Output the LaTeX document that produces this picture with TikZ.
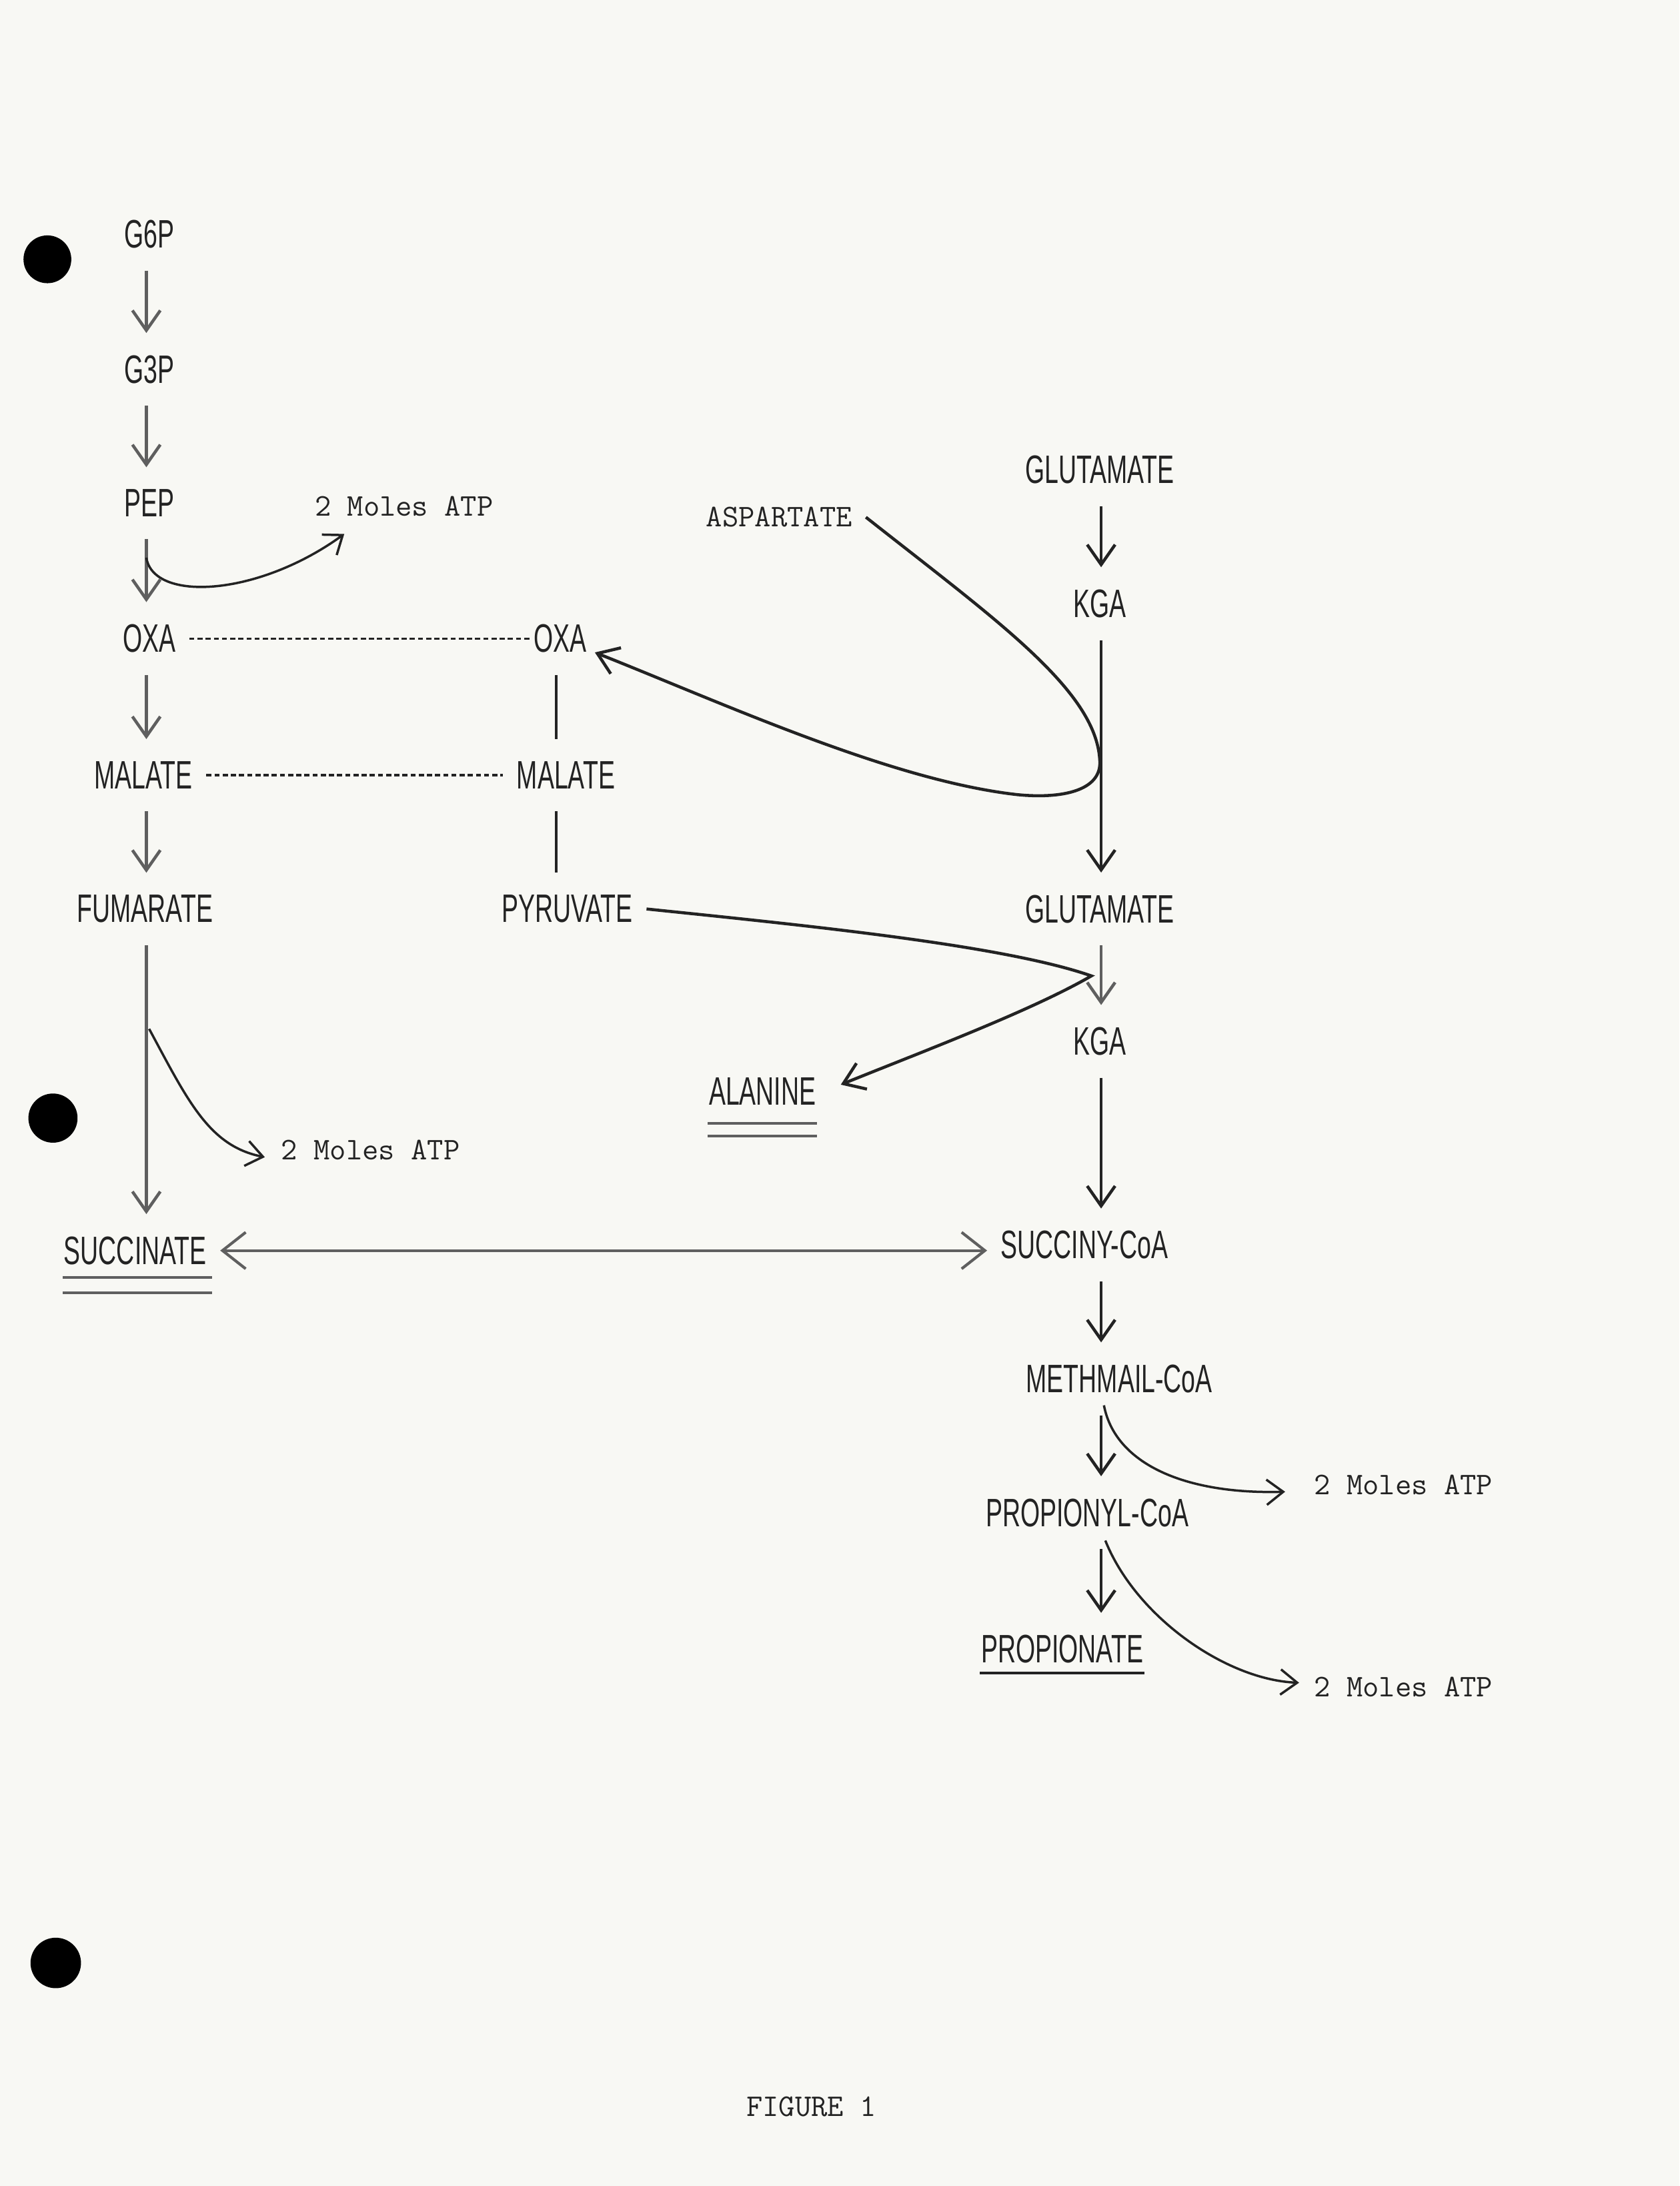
\documentclass[tikz,border=0pt]{standalone}
\usepackage{fontspec}
\usetikzlibrary{arrows.meta,calc}
\newfontfamily\letterfont[FakeStretch=0.63]{Liberation Sans}
\definecolor{paper}{RGB}{248,248,244}
\definecolor{ink}{RGB}{35,35,35}
\definecolor{fadeink}{RGB}{95,95,95}

\begin{document}
\begin{tikzpicture}[x=0.021cm,y=-0.021cm,
  chem/.style={font=\letterfont\fontsize{17}{17}\selectfont, text=ink, inner xsep=0.2cm, inner ysep=0.33cm},
  typed/.style={font=\ttfamily\fontsize{13.5}{14}\selectfont, text=ink, inner sep=0.2cm},
  arr/.style={draw=ink, line width=1.3pt, -{Straight Barb[length=0.3cm,width=0.42cm]}},
  fadearr/.style={arr, draw=fadeink},
  bar/.style={draw=ink, line width=1.3pt},
  tie/.style={draw=ink, line width=0.9pt, dash pattern=on 2.2pt off 1.3pt},
  yield/.style={draw=ink, line width=1pt, -{Straight Barb[length=0.25cm,width=0.38cm]}},
  both/.style={draw=fadeink, line width=1.2pt, {Straight Barb[length=0.35cm,width=0.55cm]}-{Straight Barb[length=0.35cm,width=0.55cm]}},
  uline/.style={draw=fadeink, line width=1.2pt}]

\fill[paper] (0,0) rectangle (1205,1568);
\useasboundingbox (0,0) rectangle (1205,1568);

% binder holes
\fill[black] (34,186) circle[radius=0.36cm];
\fill[black] (38,802) circle[radius=0.37cm];
\fill[black] (40,1408) circle[radius=0.38cm];

% column axes
\coordinate (colL) at (105,0);
\coordinate (colM) at (399,0);
\coordinate (colR) at (790,0);

% left column
\node[chem] (g6p)  at (107,168) {G6P};
\node[chem] (g3p)  at (107,265) {G3P};
\node[chem] (pep)  at (107,361) {PEP};
\node[chem] (oxaL) at (107,458) {OXA};
\node[chem] (malL) at (103,556) {MALATE};
\node[chem] (fum)  at (104,652) {FUMARATE};
\node[chem] (succ) at (97,897)  {SUCCINATE};

% middle column
\node[chem] (oxaM) at (402,458) {OXA};
\node[chem] (malM) at (406,556) {MALATE};
\node[chem] (pyr)  at (407,652) {PYRUVATE};
\node[chem] (ala)  at (547,783) {ALANINE};
\node[typed] (asp) at (559,371) {ASPARTATE};

% right column
\node[chem] (glu1) at (789,337)  {GLUTAMATE};
\node[chem] (kga1) at (789,433)  {KGA};
\node[chem] (glu2) at (789,652)  {GLUTAMATE};
\node[chem] (kga2) at (789,747)  {KGA};
\node[chem] (scoa) at (778,893)  {SUCCINY-CoA};
\node[chem] (meth) at (803,989)  {METHMAIL-CoA};
\node[chem] (pcoa) at (780,1085) {PROPIONYL-CoA};
\node[chem] (prop) at (762,1183) {PROPIONATE};

% energy yields
\node[typed, anchor=west] (atp1) at (216,363)  {2 Moles ATP};
\node[typed, anchor=west] (atp2) at (192,825)  {2 Moles ATP};
\node[typed, anchor=west] (atp3) at (933,1065) {2 Moles ATP};
\node[typed, anchor=west] (atp4) at (933,1210) {2 Moles ATP};

\node[typed] (fig) at (582,1511) {FIGURE 1};

% main left pathway
\draw[fadearr] (g6p.south -| colL) -- (g3p.north -| colL);
\draw[fadearr] (g3p.south -| colL) -- (pep.north -| colL);
\draw[fadearr] (pep.south -| colL) -- (oxaL.north -| colL);
\draw[fadearr] (oxaL.south -| colL) -- (malL.north -| colL);
\draw[fadearr] (malL.south -| colL) -- (fum.north -| colL);
\draw[fadearr] (fum.south -| colL) -- (succ.north -| colL);

% middle links
\draw[bar] (oxaM.south -| colM) -- (malM.north -| colM);
\draw[bar] (malM.south -| colM) -- (pyr.north -| colM);

% dashed equivalences
\draw[tie, shorten >=-0.18cm] (oxaL.east) -- (oxaM.west);
\draw[tie] (malL.east) -- (malM.west);

% right pathway
\draw[arr] (glu1.south -| colR) -- (kga1.north -| colR);
\draw[arr] (kga1.south -| colR) -- (glu2.north -| colR);
\draw[fadearr] (glu2.south -| colR) -- (kga2.north -| colR);
\draw[arr] (kga2.south -| colR) -- (scoa.north -| colR);
\draw[arr] (scoa.south -| colR) -- (meth.north -| colR);
\draw[arr] (meth.south -| colR) -- (pcoa.north -| colR);
\draw[arr] (pcoa.south -| colR) -- (prop.north -| colR);

% succinate exchange
\draw[both] (succ.east) -- (succ.east -| scoa.west);

% transamination curves
\draw[arr] (asp.east) .. controls (715,445) and (786,495) .. (789,545)
  .. controls (791,568) and (760,573) .. (730,570)
  .. controls (640,560) and (520,505) .. ($(oxaM.east)+(-4,10)$);
\draw[arr] (pyr.east) .. controls (580,664) and (720,678) .. (783,700)
  .. controls (740,725) and (660,755) .. ($(ala.east)+(8,-5)$);

% ATP branches
\coordinate (b1) at (105,400);  \coordinate (h1) at (247,383);
\coordinate (b2) at (107,738);  \coordinate (h2) at (190,830);
\coordinate (b3) at (792,1008); \coordinate (h3) at (922,1070);
\coordinate (b4) at (793,1105); \coordinate (h4) at (932,1207);
\draw[yield] (b1) .. controls (110,432) and (185,428) .. (h1);
\draw[yield] (b2) .. controls (135,790) and (150,822) .. (h2);
\draw[yield] (b3) .. controls (800,1050) and (850,1072) .. (h3);
\draw[yield] (b4) .. controls (815,1160) and (880,1205) .. (h4);

% underlines of end products
\draw[uline] ($(succ.south west)+(9,-7)$) -- ($(succ.south east)+(-6,-7)$);
\draw[uline] ($(succ.south west)+(9,4)$) -- ($(succ.south east)+(-6,4)$);
\draw[uline] ($(ala.south west)+(9,-3)$) -- ($(ala.south east)+(-9,-3)$);
\draw[uline] ($(ala.south west)+(9,6)$) -- ($(ala.south east)+(-9,6)$);
\draw[uline, draw=ink] ($(prop.south west)+(9,-9)$) -- ($(prop.south east)+(-9,-9)$);

\end{tikzpicture}
\end{document}
